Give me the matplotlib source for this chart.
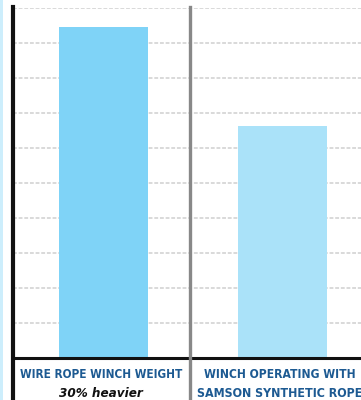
import matplotlib
matplotlib.use("Agg")
import matplotlib.pyplot as plt
from matplotlib import font_manager
from matplotlib.patches import Rectangle

# Winch weight comparison (relative units, gridlines every 1)
categories = ["WIRE ROPE WINCH WEIGHT", "WINCH OPERATING WITH", "SAMSON SYNTHETIC ROPE"]
weights = [9.46, 6.63]
bar_colors = ["#7fd3f7", "#aae2f9"]
sub_label = "30% heavier"

W, H = 361, 400
fig = plt.figure(figsize=(W / 100, H / 100), dpi=100)
fig.patch.set_facecolor("white")

# pick a narrow font if one is installed
fonts = font_manager.fontManager.ttflist
names = {f.name for f in fonts}
stretch = "normal"
if "Liberation Sans Narrow" in names:
    fam = ["Liberation Sans Narrow", "DejaVu Sans"]
elif any(f.name == "DejaVu Sans" and f.stretch == "condensed" for f in fonts):
    fam = ["DejaVu Sans"]
    stretch = "condensed"
else:
    fam = ["Roboto", "DejaVu Sans"]

# thin light-blue strip on the left edge
fig.add_artist(Rectangle((0, 0), 2.5 / W, 1, transform=fig.transFigure,
                         color="#cdeefc", lw=0))

left, right, top, bottom = 13, 361, 8, 358
ax = fig.add_axes([left / W, 1 - bottom / H, (right - left) / W, (bottom - top) / H])

ax.set_ylim(0, 10)
ax.set_xlim(-0.5056, 1.4385)
for s in ax.spines.values():
    s.set_visible(False)
ax.set_xticks([])
ax.set_yticks([])

# dashed horizontal grid
for y in range(1, 11):
    ax.axhline(y, color="#cfcfcf", lw=1.1, ls=(0, (2.5, 1.2)), zorder=0)

xs = list(range(len(weights)))
ax.bar(xs, weights, width=0.497, color=bar_colors, zorder=2)

# baseline, left border and divider
ax.axhline(0, color="#111111", lw=2.2, zorder=3, clip_on=False)
ax.axvline(-0.5056, ymin=-0.13, ymax=1.003, color="#111111", lw=3, clip_on=False, zorder=3)
ax.axvline(0.483, ymin=-0.13, ymax=1.003, color="#888888", lw=2.4, clip_on=False, zorder=3)

label_color = "#1d5a92"
tr = ax.get_xaxis_transform()


def fitted_text(x, y, s, width_px, **kw):
    # shrink the font until the label spans width_px
    t = ax.text(x, y, s, transform=tr, ha="center", va="baseline",
                family=fam, fontstretch=stretch, fontweight="bold", **kw)
    r = fig.canvas.get_renderer()
    w = t.get_window_extent(r).width
    if w > width_px:
        t.set_fontsize(t.get_fontsize() * width_px / w)
    return t


fitted_text(-0.014, -0.0574, categories[0], 164, fontsize=9.6, color=label_color)
fitted_text(-0.014, -0.111, sub_label, 84, fontsize=9.8, fontstyle="italic", color="#111111")
fitted_text(0.985, -0.0574, categories[1], 152, fontsize=9.6, color=label_color)
fitted_text(0.985, -0.111, categories[2], 168, fontsize=9.6, color=label_color)

fig.savefig("out.png", dpi=100)
